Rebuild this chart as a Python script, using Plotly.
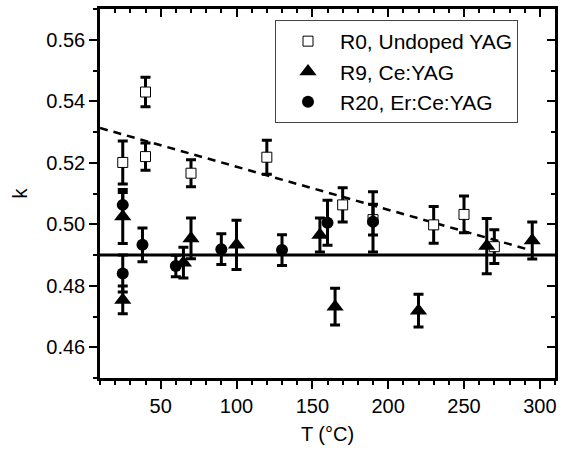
import plotly.graph_objects as go

# ---- data ----
r0_T = [25, 40, 40, 70, 120, 170, 190, 230, 250, 270]
r0_k = [0.5201, 0.5430, 0.5220, 0.5166, 0.5218, 0.5063, 0.5015, 0.4998, 0.5032, 0.4927]
r0_err = [0.0070, 0.0048, 0.0044, 0.0044, 0.0055, 0.0056, 0.0050, 0.0060, 0.0060, 0.0055]

r9_T = [25, 25, 65, 70, 100, 155, 165, 220, 265, 295]
r9_k = [0.5025, 0.4754, 0.4875, 0.4954, 0.4933, 0.4965, 0.4732, 0.4719, 0.4929, 0.4947]
r9_err = [0.0088, 0.0045, 0.0050, 0.0066, 0.0080, 0.0055, 0.0060, 0.0053, 0.0090, 0.0060]

r20_T = [25, 25, 38, 60, 90, 130, 160, 190]
r20_k = [0.5063, 0.4840, 0.4933, 0.4864, 0.4919, 0.4916, 0.5005, 0.5008]
r20_err = [0.0040, 0.0060, 0.0055, 0.0035, 0.0050, 0.0050, 0.0073, 0.0098]

fit_T = [10, 293]
fit_k = [0.5313, 0.4917]
ref_T = [10, 310]
ref_k = [0.49, 0.49]

x_range = [10, 310]
y_range = [0.45, 0.57]
x_ticks = [50, 100, 150, 200, 250, 300]
y_ticks = [0.46, 0.48, 0.50, 0.52, 0.54, 0.56]

FONT = "Liberation Sans"

fig = go.Figure()

fig.add_trace(go.Scatter(x=ref_T, y=ref_k, mode="lines",
                         line=dict(color="black", width=3), showlegend=False,
                         hoverinfo="skip"))
fig.add_trace(go.Scatter(x=fit_T, y=fit_k, mode="lines",
                         line=dict(color="black", width=2.5, dash="8px,6px"),
                         showlegend=False, hoverinfo="skip"))

eb = dict(type="data", thickness=3, width=5, color="black")

fig.add_trace(go.Scatter(x=r0_T, y=r0_k, mode="markers", name="R0, Undoped YAG",
                         marker=dict(symbol="square", size=10, color="white",
                                     line=dict(color="black", width=1)),
                         error_y=dict(array=r0_err, **eb)))
fig.add_trace(go.Scatter(x=r9_T, y=r9_k, mode="markers", name="R9, Ce:YAG",
                         marker=dict(symbol="triangle-up", size=15, color="black",
                                     line=dict(width=0)),
                         error_y=dict(array=r9_err, **eb)))
fig.add_trace(go.Scatter(x=r20_T, y=r20_k, mode="markers", name="R20, Er:Ce:YAG",
                         marker=dict(symbol="circle", size=12, color="black",
                                     line=dict(width=0)),
                         error_y=dict(array=r20_err, **eb)))

# invisible trace so the mirrored (top/right) axes are drawn
fig.add_trace(go.Scatter(x=x_range, y=y_range, xaxis="x2", yaxis="y2", mode="markers",
                         marker=dict(opacity=0), showlegend=False, hoverinfo="skip"))

line_common = dict(showgrid=False, zeroline=False, showline=True, linecolor="black",
                   linewidth=2.5, tickcolor="black", tickwidth=2, ticklen=8,
                   automargin=False)
tf = dict(family=FONT, size=20, color="black")

fig.update_layout(
    width=571, height=451,
    margin=dict(l=100, r=16, t=9, b=73),
    paper_bgcolor="white", plot_bgcolor="white",
    font=dict(family=FONT, color="black"),
    xaxis=dict(range=x_range, tickvals=x_ticks, ticks="outside", tickfont=tf,
               title=dict(text="T (°C)", font=dict(family=FONT, size=20), standoff=12),
               minor=dict(dtick=10, tick0=0, ticklen=4, tickwidth=2, ticks="outside",
                          tickcolor="black"),
               **line_common),
    yaxis=dict(range=y_range, tickvals=y_ticks, tickformat=".2f", ticks="outside",
               tickfont=tf,
               title=dict(text="k", font=dict(family=FONT, size=20), standoff=14),
               minor=dict(dtick=0.01, tick0=0, ticklen=4, tickwidth=2, ticks="outside",
                          tickcolor="black"),
               **line_common),
    xaxis2=dict(overlaying="x", side="top", range=x_range,
                tickvals=x_ticks, ticks="inside", showticklabels=False,
                minor=dict(dtick=10, tick0=0, ticklen=4, tickwidth=2, ticks="inside",
                           tickcolor="black"),
                **line_common),
    yaxis2=dict(overlaying="y", side="right", range=y_range,
                tickvals=y_ticks, ticks="inside", showticklabels=False,
                minor=dict(dtick=0.01, tick0=0, ticklen=4, tickwidth=2, ticks="inside",
                           tickcolor="black"),
                **line_common),
    legend=dict(font=dict(family=FONT, size=21, color="black"),
                bordercolor="#444", borderwidth=1, bgcolor="white",
                tracegroupgap=0, itemwidth=54),
    showlegend=True,
)

px_w = 571 - 100 - 16
px_h = 451 - 9 - 73
fig.update_layout(legend=dict(x=(275 - 100) / px_w, y=1 - (20 - 9) / px_h,
                              xanchor="left", yanchor="top"))

fig.write_html("out.html", config={"displayModeBar": False},
               post_script="document.body.style.margin='0';")
